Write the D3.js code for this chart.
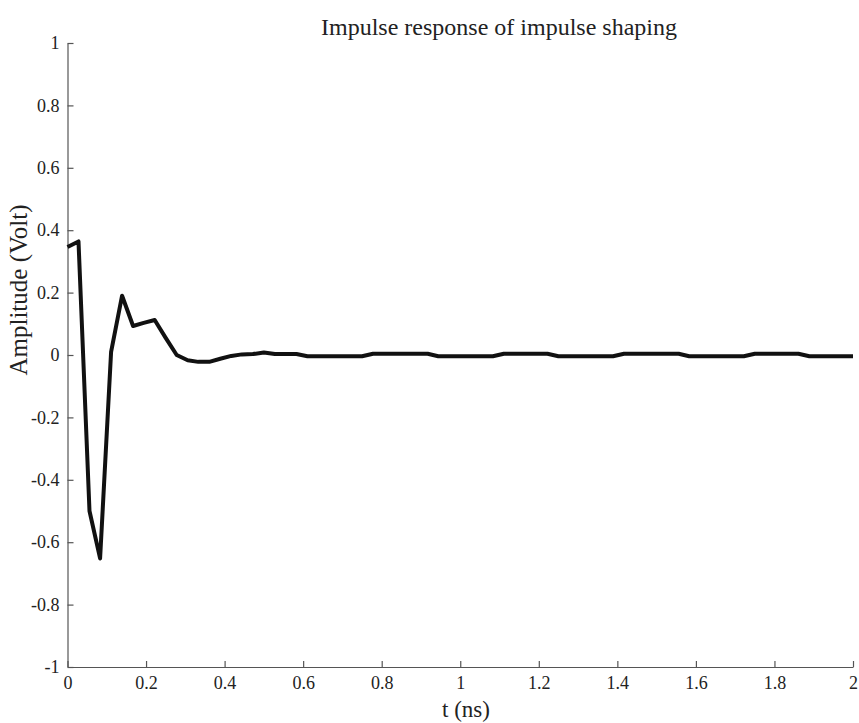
<!DOCTYPE html>
<html>
<head>
<meta charset="utf-8">
<script src="https://cdn.jsdelivr.net/npm/d3@7"></script>
<style>
  html, body { margin: 0; padding: 0; background: #fff; }
  svg { display: block; }
  text { font-family: "Liberation Serif", "Times New Roman", serif; fill: #222; }
</style>
</head>
<body>
<svg id="chart" width="859" height="723"></svg>
<script>
// Sample times (ns) of the shaped impulse response
const timeNs = [
  0.000, 0.028, 0.056, 0.083, 0.111, 0.139, 0.167, 0.194, 0.222, 0.250,
  0.278, 0.306, 0.333, 0.361, 0.389, 0.417, 0.444, 0.472, 0.500, 0.528,
  0.556, 0.583, 0.611, 0.639, 0.667, 0.694, 0.722, 0.750, 0.778, 0.806,
  0.833, 0.861, 0.889, 0.917, 0.944, 0.972, 1.000, 1.028, 1.056, 1.083,
  1.111, 1.139, 1.167, 1.194, 1.222, 1.250, 1.278, 1.306, 1.333, 1.361,
  1.389, 1.417, 1.444, 1.472, 1.500, 1.528, 1.556, 1.583, 1.611, 1.639,
  1.667, 1.694, 1.722, 1.750, 1.778, 1.806, 1.833, 1.861, 1.889, 1.917,
  1.944, 1.972, 2.000
];

// Amplitude (V) at each sample time
const amplitudeV = [
  0.346, 0.364, -0.500, -0.652, 0.010, 0.190, 0.093, 0.103, 0.112, 0.055,
  0.000, -0.017, -0.022, -0.022, -0.012, -0.003, 0.002, 0.003, 0.008, 0.003,
  0.003, 0.003, -0.004, -0.004, -0.004, -0.004, -0.004, -0.004, 0.004, 0.004,
  0.004, 0.004, 0.004, 0.004, -0.004, -0.004, -0.004, -0.004, -0.004, -0.004,
  0.004, 0.004, 0.004, 0.004, 0.004, -0.004, -0.004, -0.004, -0.004, -0.004,
  -0.004, 0.004, 0.004, 0.004, 0.004, 0.004, 0.004, -0.004, -0.004, -0.004,
  -0.004, -0.004, -0.004, 0.004, 0.004, 0.004, 0.004, 0.004, -0.004, -0.004,
  -0.004, -0.004, -0.004
];

// Axis tick values
const xTicks = [0, 0.2, 0.4, 0.6, 0.8, 1, 1.2, 1.4, 1.6, 1.8, 2];
const yTicks = [-1, -0.8, -0.6, -0.4, -0.2, 0, 0.2, 0.4, 0.6, 0.8, 1];

const titleText = "Impulse response of impulse shaping";
const xLabel = "t (ns)";
const yLabel = "Amplitude (Volt)";

const svg = d3.select("#chart");
const plot = { left: 67.5, right: 853, top: 43, bottom: 667 };
const serif = '"Liberation Serif", "Times New Roman", serif';

const x = d3.scaleLinear().domain([0, 2]).range([plot.left, plot.right]);
const y = d3.scaleLinear().domain([-1, 1]).range([plot.bottom, plot.top]);

const fmt = d => String(+d.toFixed(1));

// Bottom axis with inward ticks
const gx = svg.append("g")
  .attr("transform", `translate(0,${plot.bottom})`)
  .call(d3.axisBottom(x).tickValues(xTicks).tickFormat(fmt)
    .tickSizeInner(-6).tickSizeOuter(0).tickPadding(9));

// Left axis with inward ticks
const gy = svg.append("g")
  .attr("transform", `translate(${plot.left},0)`)
  .call(d3.axisLeft(y).tickValues(yTicks).tickFormat(fmt)
    .tickSizeInner(-6).tickSizeOuter(0).tickPadding(8));

[gx, gy].forEach(g => {
  g.attr("font-family", null).attr("font-size", null);
  g.select(".domain").attr("stroke", "#555").attr("stroke-width", 1.2);
  g.selectAll(".tick line").attr("stroke", "#555").attr("stroke-width", 1.2);
  g.selectAll(".tick text")
    .style("font-family", serif)
    .style("font-size", "18px")
    .style("fill", "#222");
});

// Response curve
const line = d3.line()
  .x((d, i) => x(timeNs[i]))
  .y(d => y(d));

svg.append("path")
  .datum(amplitudeV)
  .attr("d", line)
  .attr("fill", "none")
  .attr("stroke", "#111")
  .attr("stroke-width", 4)
  .attr("stroke-linejoin", "round")
  .attr("stroke-linecap", "butt");

// Title and axis labels
svg.append("text")
  .attr("x", 499).attr("y", 35)
  .attr("text-anchor", "middle")
  .style("font-size", "24px")
  .text(titleText);

svg.append("text")
  .attr("x", 466).attr("y", 717)
  .attr("text-anchor", "middle")
  .style("font-size", "23px")
  .text(xLabel);

svg.append("text")
  .attr("transform", "translate(27,290) rotate(-90)")
  .attr("text-anchor", "middle")
  .style("font-size", "25px")
  .text(yLabel);
</script>
</body>
</html>
